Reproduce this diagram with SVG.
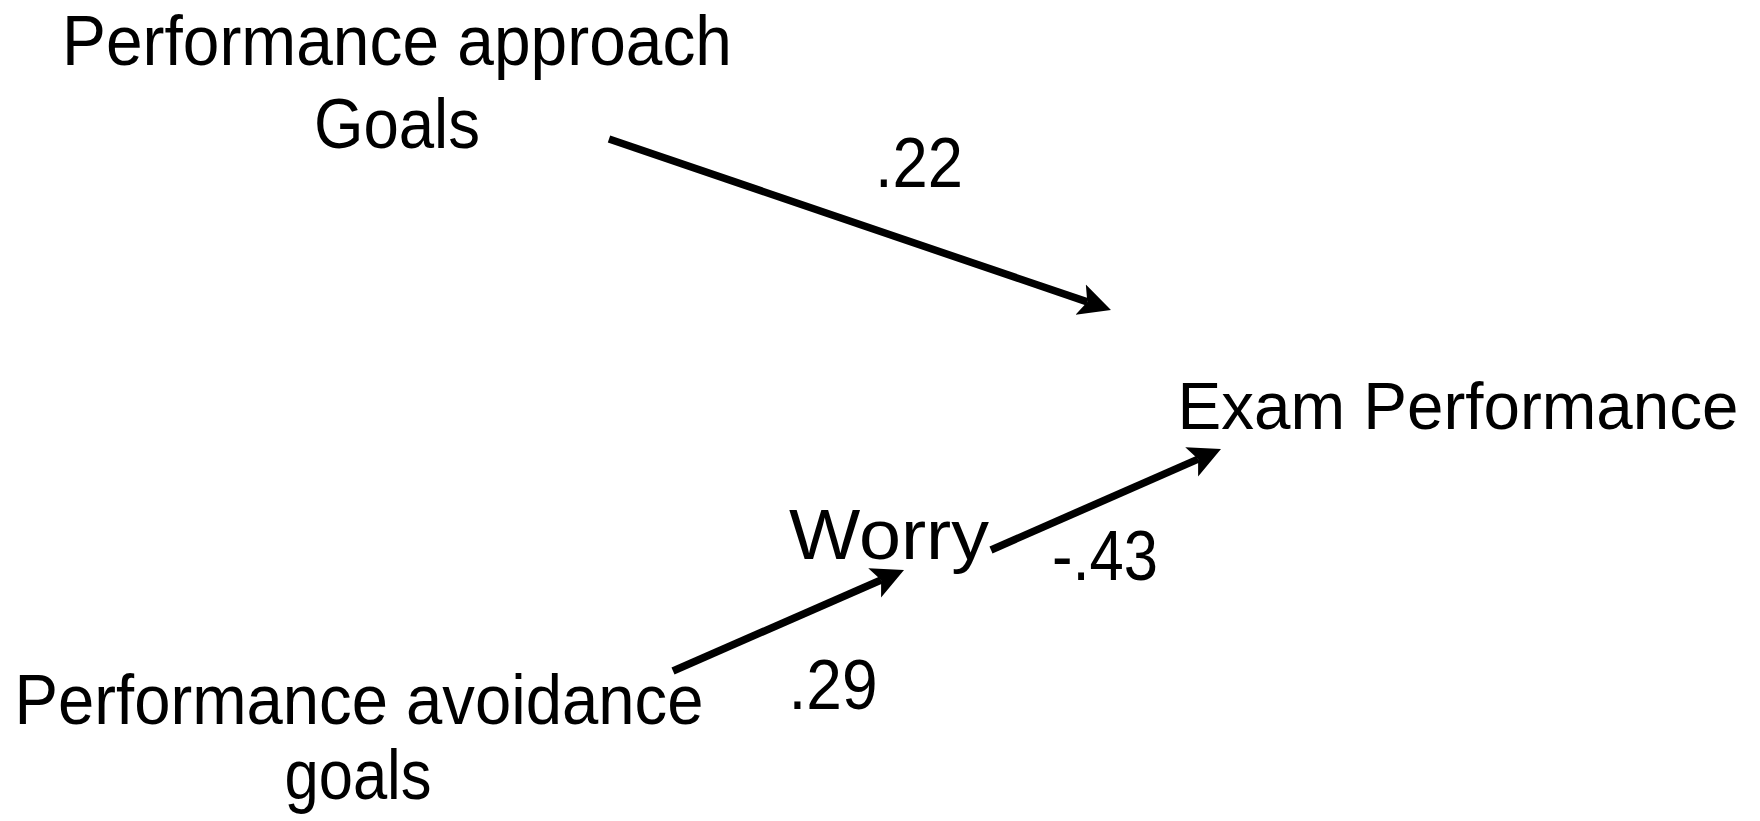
<svg xmlns="http://www.w3.org/2000/svg" width="1760" height="821" viewBox="0 0 1760 821">
<style>
.t{font-family:"Liberation Sans",Arial,sans-serif;font-size:70px;fill:#000;text-anchor:middle}
.c{stroke:#000;stroke-width:7.5;fill:none;marker-end:url(#ah)}
</style>
<defs>
<marker id="ah" markerUnits="userSpaceOnUse" viewBox="0 -18 36 36" refX="7" refY="0" markerWidth="36" markerHeight="36" orient="auto">
<path d="M0,-16 L32,0 L0,16 L7,0 z" fill="#000"/>
</marker>
</defs>
<rect width="1760" height="821" fill="#fff"/>
<g id="connectors">
<line class="c" x1="609" y1="139" x2="1087.3" y2="301.9"/>
<line class="c" x1="991" y1="550" x2="1198.1" y2="459.1"/>
<line class="c" x1="673" y1="671" x2="881.1" y2="580"/>
</g>
<g id="approach"><text class="t" x="397" y="65" textLength="670" lengthAdjust="spacingAndGlyphs">Performance approach</text><text class="t" x="397" y="148" textLength="166" lengthAdjust="spacingAndGlyphs">Goals</text></g>
<g id="exam"><text class="t" x="1458" y="429" style="font-size:66px" textLength="561" lengthAdjust="spacingAndGlyphs">Exam Performance</text></g>
<g id="worry"><text class="t" x="889" y="559" textLength="200" lengthAdjust="spacingAndGlyphs">Worry</text></g>
<g id="avoidance"><text class="t" x="359" y="724" textLength="689" lengthAdjust="spacingAndGlyphs">Performance avoidance</text><text class="t" x="358" y="799" textLength="147" lengthAdjust="spacingAndGlyphs">goals</text></g>
<g id="labels">
<text class="t" x="919" y="187" textLength="88" lengthAdjust="spacingAndGlyphs">.22</text>
<text class="t" x="1105" y="580" textLength="106" lengthAdjust="spacingAndGlyphs">-.43</text>
<text class="t" x="833" y="709" textLength="89" lengthAdjust="spacingAndGlyphs">.29</text>
</g>
</svg>
